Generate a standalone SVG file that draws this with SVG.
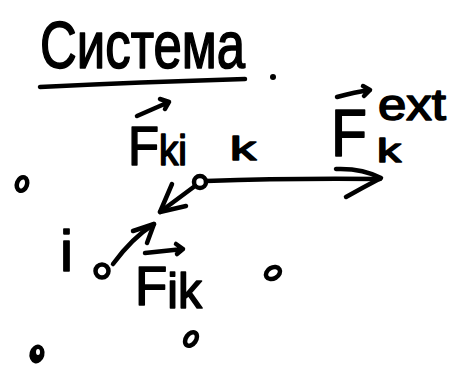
<svg xmlns="http://www.w3.org/2000/svg" width="452" height="371" viewBox="0 0 452 371">
<style>
.ink{fill:none;stroke:#000;stroke-width:4.5;stroke-linecap:round;stroke-linejoin:round}
.pt{fill:none;stroke:#000;stroke-width:4.5}
.t{font-family:"Liberation Sans",Arial,sans-serif;fill:#000;stroke:#000;stroke-width:1.6;stroke-linejoin:round}
</style>
<rect width="452" height="371" fill="#fff"/>
<g id="title">
<text class="t" x="40" y="68" font-size="66" textLength="205" lengthAdjust="spacingAndGlyphs">Система</text>
<path class="ink" d="M40,87 Q140,82 245,79"/>
<circle cx="273" cy="77" r="3" fill="#000"/>
</g>
<g id="connectors">
<path class="ink" d="M206,181 Q290,178 380,179"/>
<path class="ink" d="M336,169 Q362,168 381,178 Q362,188 346,197"/>
<path class="ink" d="M195,186 L160,212"/>
<path class="ink" d="M172,184 L160,212 L186,206"/>
<path class="ink" d="M113,264 Q132,238 154,224"/>
<path class="ink" d="M133,231 L154,224 L147,243"/>
</g>
<g id="particle-k">
<circle class="pt" cx="200" cy="182" r="6"/>
<text class="t" x="230" y="160" font-size="34" textLength="26" lengthAdjust="spacingAndGlyphs">k</text>
</g>
<g id="particle-i">
<circle class="pt" cx="102" cy="271" r="6.5"/>
<text class="t" x="60" y="271" font-size="58" textLength="13" lengthAdjust="spacingAndGlyphs">i</text>
</g>
<g id="label-Fki">
<path class="ink" d="M137,116 L169,102 M160,99 L169,102 L165,109"/>
<text class="t" x="128" y="165" font-size="55" textLength="59" lengthAdjust="spacingAndGlyphs">F<tspan font-size="42">ki</tspan></text>
</g>
<g id="label-Fik">
<path class="ink" d="M145,253 L183,249 M176,244 L183,249 L177,254"/>
<text class="t" x="135" y="305" font-size="55" textLength="67" lengthAdjust="spacingAndGlyphs">F<tspan font-size="50" dy="3">ik</tspan></text>
</g>
<g id="label-Fext">
<path class="ink" d="M337,97 Q355,92 370,90 M363,86 L370,90 L364,96"/>
<text class="t" x="331" y="156" font-size="66" textLength="36" lengthAdjust="spacingAndGlyphs">F</text>
<text class="t" x="378" y="120" font-size="44" textLength="68" lengthAdjust="spacingAndGlyphs">ext</text>
<text class="t" x="377" y="162" font-size="34" textLength="24" lengthAdjust="spacingAndGlyphs">k</text>
</g>
<g id="particle-1">
<ellipse class="pt" cx="22" cy="184" rx="5" ry="7" transform="rotate(20 22 184)"/>
</g>
<g id="particle-2">
<ellipse class="pt" cx="273" cy="273" rx="7.5" ry="5.5" transform="rotate(-30 273 273)"/>
</g>
<g id="particle-3">
<ellipse class="pt" cx="191" cy="339" rx="5" ry="7.5" transform="rotate(35 191 339)"/>
</g>
<g id="particle-4">
<ellipse cx="37" cy="354" rx="7.5" ry="9.5" fill="#000" transform="rotate(15 37 354)"/>
<ellipse cx="38" cy="352" rx="2" ry="3" fill="#fff"/>
</g>
</svg>
